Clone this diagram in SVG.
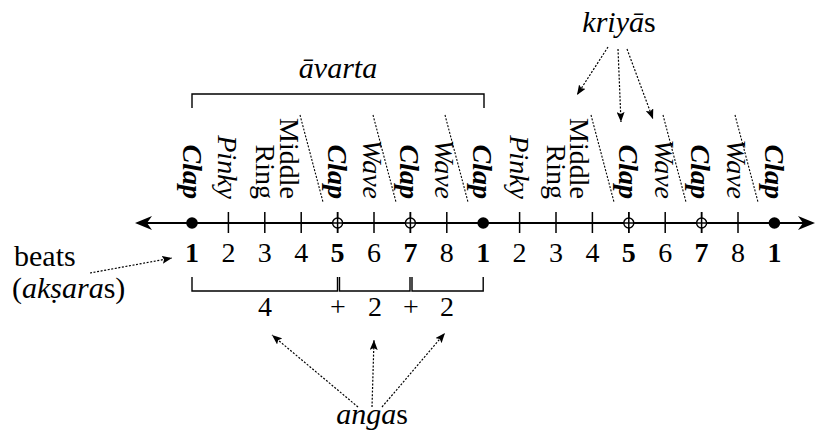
<svg xmlns="http://www.w3.org/2000/svg" width="817" height="434" viewBox="0 0 817 434">
<defs>
<style>
text{font-family:"Liberation Serif","Times New Roman",serif;fill:#000}
.lab{font-size:30px}
.num{font-size:28px;text-anchor:middle}
.b{font-weight:bold}
.it{font-style:italic}
.rot{font-size:28px;text-anchor:end}
.clap{font-weight:bold;font-style:italic}
.ln{stroke:#000;stroke-width:1.4;fill:none}
.axis{stroke:#000;stroke-width:2.2;fill:none}
.tick{stroke:#000;stroke-width:1.5}
.dot{stroke:#000;stroke-width:1.2;stroke-dasharray:2 1.6;fill:none}
.sep{stroke:#000;stroke-width:1.1;stroke-dasharray:2 1.5;fill:none}
</style>
<marker id="ah" viewBox="0 0 10 8" refX="10" refY="4" markerWidth="10" markerHeight="8" markerUnits="userSpaceOnUse" orient="auto">
<path d="M0,0 L10,4 L0,8 L2,4 z" fill="#000"/>
</marker>
</defs>

<g id="axis">
<line class="axis" x1="140" y1="223" x2="810" y2="223"/>
<polygon points="135,223 152,216 147,223 152,230" fill="#000"/>
<polygon points="815,223 798,216 803,223 798,230" fill="#000"/>
<g class="tick">
<line x1="228.4" y1="212" x2="228.4" y2="233"/>
<line x1="264.8" y1="212" x2="264.8" y2="233"/>
<line x1="301.2" y1="212" x2="301.2" y2="233"/>
<line x1="337.6" y1="212" x2="337.6" y2="233"/>
<line x1="374" y1="212" x2="374" y2="233"/>
<line x1="410.4" y1="212" x2="410.4" y2="233"/>
<line x1="446.8" y1="212" x2="446.8" y2="233"/>
<line x1="519.6" y1="212" x2="519.6" y2="233"/>
<line x1="556" y1="212" x2="556" y2="233"/>
<line x1="592.4" y1="212" x2="592.4" y2="233"/>
<line x1="628.8" y1="212" x2="628.8" y2="233"/>
<line x1="665.2" y1="212" x2="665.2" y2="233"/>
<line x1="701.6" y1="212" x2="701.6" y2="233"/>
<line x1="738" y1="212" x2="738" y2="233"/>
</g>
<circle cx="192" cy="223" r="5.8" fill="#000"/>
<circle cx="483.2" cy="223" r="5.8" fill="#000"/>
<circle cx="774.4" cy="223" r="5.8" fill="#000"/>
<g fill="#fff" stroke="#000" stroke-width="1.4">
<circle cx="337.6" cy="223" r="5"/>
<circle cx="410.4" cy="223" r="5"/>
<circle cx="628.8" cy="223" r="5"/>
<circle cx="701.6" cy="223" r="5"/>
</g>
<g class="tick">
<line x1="337.6" y1="212" x2="337.6" y2="233"/>
<line x1="410.4" y1="212" x2="410.4" y2="233"/>
<line x1="628.8" y1="212" x2="628.8" y2="233"/>
<line x1="701.6" y1="212" x2="701.6" y2="233"/>
<line x1="331" y1="223" x2="344" y2="223"/>
<line x1="404" y1="223" x2="417" y2="223"/>
<line x1="622" y1="223" x2="635" y2="223"/>
<line x1="695" y1="223" x2="708" y2="223"/>
</g>
</g>

<g id="beat-numbers">
<text class="num b" x="192" y="262">1</text>
<text class="num" x="228.4" y="262">2</text>
<text class="num" x="264.8" y="262">3</text>
<text class="num" x="301.2" y="262">4</text>
<text class="num b" x="337.6" y="262">5</text>
<text class="num" x="374" y="262">6</text>
<text class="num b" x="410.4" y="262">7</text>
<text class="num" x="446.8" y="262">8</text>
<text class="num b" x="483.2" y="262">1</text>
<text class="num" x="519.6" y="262">2</text>
<text class="num" x="556" y="262">3</text>
<text class="num" x="592.4" y="262">4</text>
<text class="num b" x="628.8" y="262">5</text>
<text class="num" x="665.2" y="262">6</text>
<text class="num b" x="701.6" y="262">7</text>
<text class="num" x="738" y="262">8</text>
<text class="num b" x="774.4" y="262">1</text>
</g>

<g id="kriya-labels">
<text class="rot clap" transform="translate(183,199) rotate(90)">Clap</text>
<text class="rot it" transform="translate(218,199) rotate(90)">Pinky</text>
<text class="rot" transform="translate(256,199) rotate(90)">Ring</text>
<text class="rot" transform="translate(280,199) rotate(90)">Middle</text>
<text class="rot clap" transform="translate(328,199) rotate(90)">Clap</text>
<text class="rot it" transform="translate(363,199) rotate(90)">Wave</text>
<text class="rot clap" transform="translate(400,199) rotate(90)">Clap</text>
<text class="rot it" transform="translate(435,199) rotate(90)">Wave</text>
<text class="rot clap" transform="translate(473,199) rotate(90)">Clap</text>
<text class="rot it" transform="translate(510,199) rotate(90)">Pinky</text>
<text class="rot" transform="translate(547,199) rotate(90)">Ring</text>
<text class="rot" transform="translate(570,199) rotate(90)">Middle</text>
<text class="rot clap" transform="translate(619,199) rotate(90)">Clap</text>
<text class="rot it" transform="translate(655,199) rotate(90)">Wave</text>
<text class="rot clap" transform="translate(691,199) rotate(90)">Clap</text>
<text class="rot it" transform="translate(727,199) rotate(90)">Wave</text>
<text class="rot clap" transform="translate(765,199) rotate(90)">Clap</text>
</g>

<g id="separators">
<line class="sep" x1="300" y1="115" x2="323" y2="202"/>
<line class="sep" x1="373" y1="115" x2="396" y2="202"/>
<line class="sep" x1="445" y1="115" x2="468" y2="202"/>
<line class="sep" x1="591" y1="115" x2="614" y2="202"/>
<line class="sep" x1="663" y1="115" x2="686" y2="202"/>
<line class="sep" x1="735" y1="115" x2="758" y2="202"/>
</g>

<g id="avarta">
<path class="ln" d="M192,108 V94 H484 V108"/>
<text class="lab it" x="338" y="78" text-anchor="middle">āvarta</text>
</g>

<g id="angas">
<path class="ln" d="M192,277 V291 H337.5 V277 M339.5,277 V291 H410 V277 M412,277 V291 H483.2 V277"/>
<text class="num" x="265" y="316">4</text>
<text class="num" x="338" y="316">+</text>
<text class="num" x="375" y="316">2</text>
<text class="num" x="411" y="316">+</text>
<text class="num" x="447" y="316">2</text>
<text class="lab" x="372" y="424" text-anchor="middle"><tspan class="it">anga</tspan>s</text>
</g>

<g id="kriyas-label">
<text class="lab" x="619" y="32" text-anchor="middle"><tspan class="it">kriyā</tspan>s</text>
</g>

<g id="beats-label">
<text class="lab" x="14" y="266">beats</text>
<text class="lab" x="12" y="298">(<tspan class="it">akṣara</tspan>s)</text>
</g>

<g id="connectors">
<line class="dot" x1="608" y1="47" x2="577" y2="95" marker-end="url(#ah)"/>
<line class="dot" x1="618" y1="49" x2="621" y2="122" marker-end="url(#ah)"/>
<line class="dot" x1="627" y1="49" x2="653" y2="119" marker-end="url(#ah)"/>
<line class="dot" x1="358" y1="407" x2="272" y2="335" marker-end="url(#ah)"/>
<line class="dot" x1="372" y1="407" x2="374" y2="340" marker-end="url(#ah)"/>
<line class="dot" x1="382" y1="407" x2="445" y2="333" marker-end="url(#ah)"/>
<line class="dot" x1="90" y1="273" x2="172" y2="258" marker-end="url(#ah)"/>
</g>
</svg>
